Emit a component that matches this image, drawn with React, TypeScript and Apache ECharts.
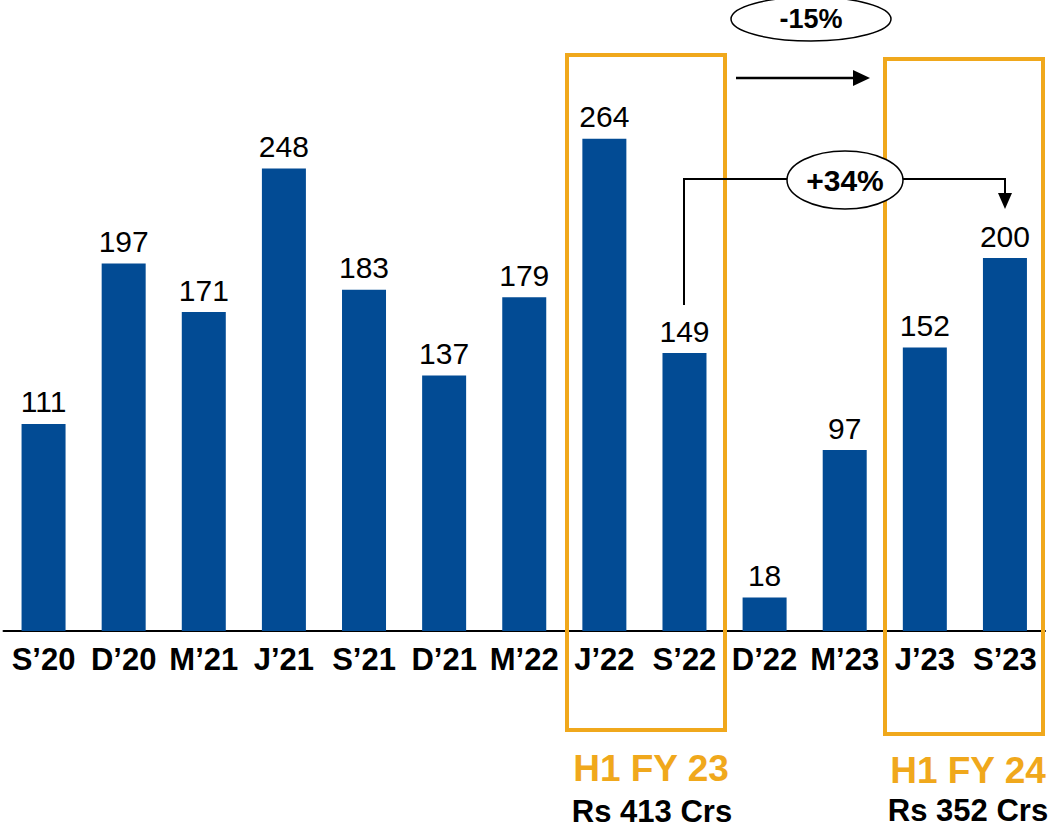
import React, { useEffect, useRef } from "react";
import * as echarts from "echarts";

const categories = ["S’20", "D’20", "M’21", "J’21", "S’21", "D’21", "M’22", "J’22", "S’22", "D’22", "M’23", "J’23", "S’23"];
const values = [111, 197, 171, 248, 183, 137, 179, 264, 149, 18, 97, 152, 200];
const growthYoY = "+34%";
const growthHalf = "-15%";
const halfLabels = ["H1 FY 23", "H1 FY 24"];
const halfTotals = ["Rs 413 Crs", "Rs 352 Crs"];

const FONT = "'Liberation Sans', Arial, Helvetica, sans-serif";
const BLUE = "#024B94";
const ORANGE = "#F0A81C";

export default function App() {
  const ref = useRef<HTMLDivElement>(null);
  useEffect(() => {
    if (!ref.current) return;
    const chart = echarts.init(ref.current, undefined, { renderer: "svg" });
    chart.setOption({
      animation: false,
      backgroundColor: "#ffffff",
      grid: { left: 3.5, right: 5, top: 71.5, bottom: 197, containLabel: false },
      xAxis: {
        type: "category",
        data: categories,
        axisLine: { show: true, lineStyle: { color: "#000", width: 2 } },
        axisTick: { show: false },
        axisLabel: { fontFamily: FONT, fontSize: 31, fontWeight: "bold", color: "#000", margin: 13, interval: 0 },
      },
      yAxis: {
        type: "value",
        min: 0,
        max: 300,
        show: false,
        splitLine: { show: false },
      },
      series: [
        {
          type: "bar",
          data: values,
          barWidth: 44,
          itemStyle: { color: BLUE },
          label: {
            show: true,
            position: "top",
            distance: 7,
            fontFamily: FONT,
            fontSize: 30,
            color: "#000",
          },
        },
      ],
      graphic: [
        // boxes
        { type: "rect", shape: { x: 567, y: 55, width: 158, height: 675 }, style: { fill: "none", stroke: ORANGE, lineWidth: 4 }, z: 10 },
        { type: "rect", shape: { x: 885, y: 59, width: 158, height: 675 }, style: { fill: "none", stroke: ORANGE, lineWidth: 4 }, z: 10 },
        // half labels
        { type: "text", x: 651, y: 768, style: { text: halfLabels[0], font: `bold 37px ${FONT}`, fill: ORANGE, align: "center", verticalAlign: "middle" } },
        { type: "text", x: 968, y: 770, style: { text: halfLabels[1], font: `bold 37px ${FONT}`, fill: ORANGE, align: "center", verticalAlign: "middle" } },
        { type: "text", x: 652, y: 811.5, style: { text: halfTotals[0], font: `bold 31px ${FONT}`, fill: "#000", align: "center", verticalAlign: "middle" } },
        { type: "text", x: 968, y: 810, style: { text: halfTotals[1], font: `bold 31px ${FONT}`, fill: "#000", align: "center", verticalAlign: "middle" } },
        // -15% ellipse and arrow
        { type: "ellipse", shape: { cx: 811, cy: 19, rx: 80, ry: 22 }, style: { fill: "#fff", stroke: "#000", lineWidth: 1.5 }, z: 11 },
        { type: "text", x: 811, y: 19, z: 12, style: { text: growthHalf, font: `bold 27px ${FONT}`, fill: "#000", align: "center", verticalAlign: "middle" } },
        { type: "line", shape: { x1: 736, y1: 78, x2: 856, y2: 78 }, style: { stroke: "#000", lineWidth: 2.5 }, z: 11 },
        { type: "polygon", shape: { points: [[853, 70], [870, 78], [853, 86]] }, style: { fill: "#000" }, z: 11 },
        // +34% connector
        { type: "polyline", shape: { points: [[684, 305], [684, 179], [1005, 179], [1005, 196]] }, style: { stroke: "#000", lineWidth: 2, fill: "none" }, z: 11 },
        { type: "polygon", shape: { points: [[998, 193], [1012, 193], [1005, 209]] }, style: { fill: "#000" }, z: 11 },
        { type: "ellipse", shape: { cx: 845, cy: 180, rx: 58, ry: 29 }, style: { fill: "#fff", stroke: "#000", lineWidth: 1.5 }, z: 12 },
        { type: "text", x: 845, y: 180, z: 13, style: { text: growthYoY, font: `bold 30px ${FONT}`, fill: "#000", align: "center", verticalAlign: "middle" } },
      ],
    });
    return () => chart.dispose();
  }, []);
  return <div ref={ref} style={{ width: 1050, height: 828, position: "absolute", left: 0, top: 0 }} />;
}
